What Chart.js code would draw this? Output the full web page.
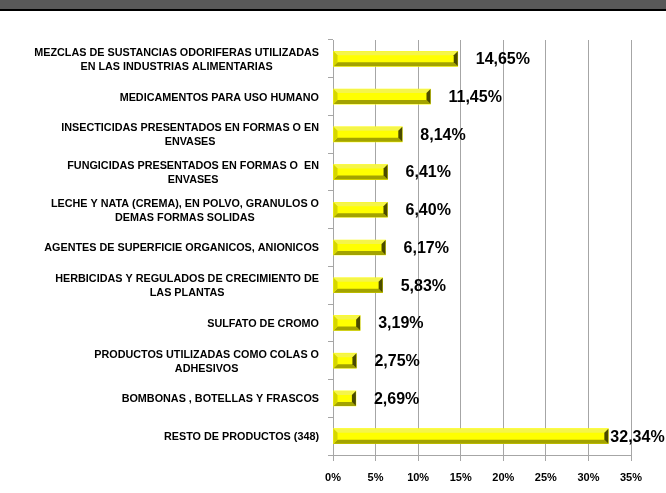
<!DOCTYPE html>
<html>
<head>
<meta charset="utf-8">
<script src="https://cdn.jsdelivr.net/npm/chart.js@4"></script>
<style>
  html, body { margin: 0; padding: 0; background: #fff; }
  #wrap { width: 666px; height: 493px; }
</style>
</head>
<body>
<div id="wrap"><canvas id="chart" width="666" height="493"></canvas></div>
<script>
// --- DATA ---
const categories = [
    ['MEZCLAS DE SUSTANCIAS ODORIFERAS UTILIZADAS', 'EN LAS INDUSTRIAS ALIMENTARIAS'],
    ['MEDICAMENTOS PARA USO HUMANO'],
    ['INSECTICIDAS PRESENTADOS EN FORMAS O EN', 'ENVASES'],
    ['FUNGICIDAS PRESENTADOS EN FORMAS O  EN', 'ENVASES'],
    ['LECHE Y NATA (CREMA), EN POLVO, GRANULOS O', 'DEMAS FORMAS SOLIDAS'],
    ['AGENTES DE SUPERFICIE ORGANICOS, ANIONICOS'],
    ['HERBICIDAS Y REGULADOS DE CRECIMIENTO DE', 'LAS PLANTAS'],
    ['SULFATO DE CROMO'],
    ['PRODUCTOS UTILIZADAS COMO COLAS O', 'ADHESIVOS'],
    ['BOMBONAS , BOTELLAS Y FRASCOS'],
    ['RESTO DE PRODUCTOS (348)']
];
const shares = [14.65, 11.45, 8.14, 6.41, 6.40, 6.17, 5.83, 3.19, 2.75, 2.69, 32.34];
const xMin = 0, xMax = 35, xStep = 5;

const GRID = '#a6a6a6';
const fmt = v => v.toFixed(2).replace('.', ',') + '%';

// --- PLUGINS ---
const banner = {
    id: 'banner',
    beforeDraw(chart) {
        const ctx = chart.ctx;
        ctx.save();
        ctx.fillStyle = '#fff';
        ctx.fillRect(0, 0, chart.width, chart.height);
        ctx.fillStyle = '#595959';
        ctx.fillRect(0, 0, chart.width, 9);
        ctx.fillStyle = '#000';
        ctx.fillRect(0, 9, chart.width, 2);
        ctx.restore();
    }
};

// excel-ish bevel on each bar
const bevel = {
    id: 'bevel',
    afterDatasetsDraw(chart) {
        const ctx = chart.ctx;
        chart.getDatasetMeta(0).data.forEach(bar => {
            const l = bar.base, r = bar.x, t = bar.y - bar.height / 2, b = bar.y + bar.height / 2;
            const d = 4;
            const poly = (pts, c) => {
                ctx.beginPath();
                ctx.moveTo(pts[0][0], pts[0][1]);
                pts.slice(1).forEach(p => ctx.lineTo(p[0], p[1]));
                ctx.closePath();
                ctx.fillStyle = c;
                ctx.fill();
            };
            ctx.save();
            poly([[l, t], [r, t], [r - d, t + d], [l + d, t + d]], '#f5f54a');
            poly([[l, b], [r, b], [r - d, b - d], [l + d, b - d]], '#a3a300');
            poly([[l, t], [l + d, t + d], [l + d, b - d], [l, b]], '#d6d600');
            poly([[r, t], [r - d, t + d], [r - d, b - d], [r, b]], '#4a4a00');
            ctx.restore();
        });
    }
};

// value labels and category labels (lines centered, block right-aligned)
const labels = {
    id: 'labels',
    afterDraw(chart) {
        const ctx = chart.ctx;
        const area = chart.chartArea;
        const yScale = chart.scales.y;
        ctx.save();
        ctx.fillStyle = '#000';
        ctx.textBaseline = 'middle';

        ctx.font = 'bold 16px "Liberation Sans", Arial, sans-serif';
        ctx.textAlign = 'left';
        chart.getDatasetMeta(0).data.forEach((bar, i) => {
            const txt = fmt(shares[i]);
            const w = ctx.measureText(txt).width;
            const off = bar.x + 18 + w > area.right ? 2 : 18;
            ctx.fillText(txt, bar.x + off, bar.y + 1);
        });

        ctx.font = 'bold 10.8px "Liberation Sans", Arial, sans-serif';
        ctx.textAlign = 'center';
        categories.forEach((lines, i) => {
            const cy = yScale.getPixelForValue(i);
            const maxW = Math.max(...lines.map(s => ctx.measureText(s).width));
            const cx = area.left - 14 - maxW / 2;
            const lh = 14;
            lines.forEach((s, j) => {
                ctx.fillText(s, cx, cy + 1 + (j - (lines.length - 1) / 2) * lh);
            });
        });
        ctx.restore();
    }
};

// --- CHART ---
new Chart(document.getElementById('chart'), {
    type: 'bar',
    data: {
        labels: categories,
        datasets: [{
            data: shares,
            backgroundColor: '#ffff00',
            borderWidth: 0,
            barThickness: 15
        }]
    },
    options: {
        indexAxis: 'y',
        responsive: false,
        animation: false,
        layout: { padding: { top: 40, right: 35, bottom: 0, left: 0 } },
        plugins: { legend: { display: false }, tooltip: { enabled: false } },
        scales: {
            x: {
                min: xMin, max: xMax,
                ticks: {
                    stepSize: xStep,
                    callback: v => v + '%',
                    color: '#000',
                    font: { family: '"Liberation Sans", Arial, sans-serif', size: 11, weight: 'bold' },
                    padding: 10
                },
                grid: { color: GRID, tickLength: 6 },
                border: { color: GRID },
                afterFit: s => { s.height = 38; }
            },
            y: {
                ticks: { display: false },
                grid: { color: GRID, drawOnChartArea: false, tickLength: 5 },
                border: { color: GRID },
                afterFit: s => { s.width = 333; }
            }
        }
    },
    plugins: [banner, bevel, labels]
});
</script>
</body>
</html>
